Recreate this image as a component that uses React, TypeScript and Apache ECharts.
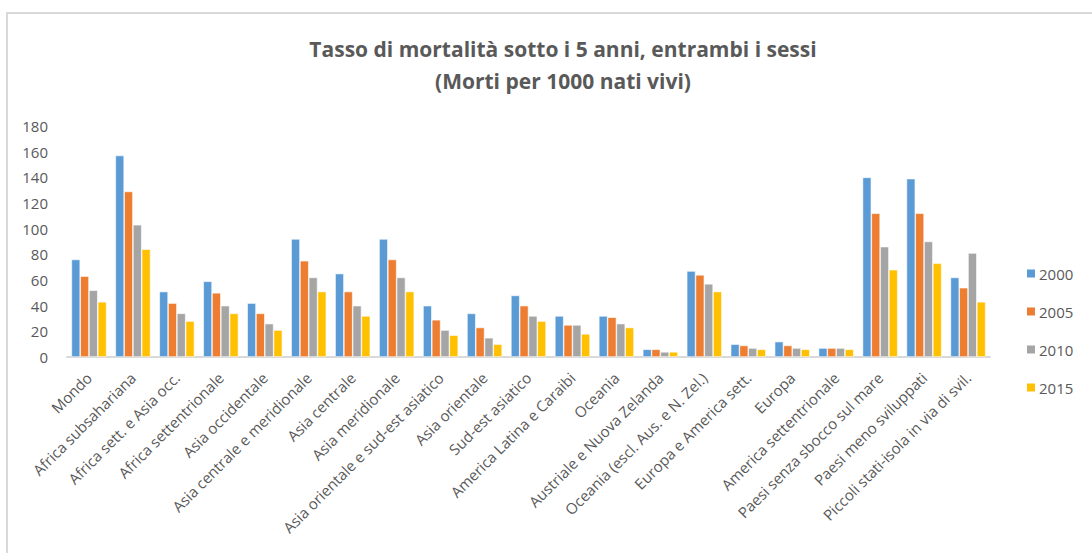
import React, { useEffect, useRef } from "react";
import * as echarts from "echarts";

const categories = [
  "Mondo",
  "Africa subsahariana",
  "Africa sett. e Asia occ.",
  "Africa settentrionale",
  "Asia occidentale",
  "Asia centrale e meridionale",
  "Asia centrale",
  "Asia meridionale",
  "Asia orientale e sud-est asiatico",
  "Asia orientale",
  "Sud-est asiatico",
  "America Latina e Caraibi",
  "Oceania",
  "Austriale e Nuova Zelanda",
  "Oceania (escl. Aus. e N. Zel.)",
  "Europa e America sett.",
  "Europa",
  "America settentrionale",
  "Paesi senza sbocco sul mare",
  "Paesi meno sviluppati",
  "Piccoli stati-isola in via di svil.",
];

const years = ["2000", "2005", "2010", "2015"];

const values2000 = [76, 157, 51, 59, 42, 92, 65, 92, 40, 34, 48, 32, 32, 6, 67, 10, 12, 7, 140, 139, 62];
const values2005 = [63, 129, 42, 50, 34, 75, 51, 76, 29, 23, 40, 25, 31, 6, 64, 9, 9, 7, 112, 112, 54];
const values2010 = [52, 103, 34, 40, 26, 62, 40, 62, 21, 15, 32, 25, 26, 4, 57, 7, 7, 7, 86, 90, 81];
const values2015 = [43, 84, 28, 34, 21, 51, 32, 51, 17, 10, 28, 18, 23, 4, 51, 6, 6, 6, 68, 73, 43];

const seriesValues = [values2000, values2005, values2010, values2015];
const colors = ["#5B9BD5", "#ED7D31", "#A5A5A5", "#FFC000"];

const FONT = "'Open Sans', sans-serif";

export default function App() {
  const ref = useRef<HTMLDivElement>(null);
  useEffect(() => {
    if (!ref.current) return;
    const chart = echarts.init(ref.current, null, { renderer: "svg" });
    chart.setOption({
      animation: false,
      backgroundColor: "#ffffff",
      title: {
        text: "Tasso di mortalità sotto i 5 anni, entrambi i sessi\n(Morti per 1000 nati vivi)",
        left: 558,
        textAlign: "center",
        top: 28,
        textStyle: {
          fontFamily: FONT,
          fontWeight: "bold",
          fontSize: 21,
          lineHeight: 32,
          color: "#595959",
        },
      },
      graphic: [
        {
          type: "rect",
          silent: true,
          z: -10,
          shape: { x: 7, y: 13, width: 1200, height: 700 },
          style: { fill: "none", stroke: "#d9d9d9", lineWidth: 2 },
        },
      ],
      legend: {
        orient: "vertical",
        left: 1020,
        top: 261,
        itemWidth: 10,
        itemHeight: 10,
        itemGap: 23,
        icon: "rect",
        textStyle: { fontFamily: FONT, fontSize: 15, color: "#595959", padding: [0, 0, 0, -2] },
        data: years,
      },
      grid: { left: 67, right: 102, top: 126, bottom: 196, containLabel: false },
      xAxis: {
        type: "category",
        data: categories,
        axisTick: { show: false },
        axisLine: { lineStyle: { color: "#d9d9d9", width: 2 } },
        axisLabel: {
          rotate: 45,
          interval: 0,
          fontFamily: FONT,
          fontSize: 15,
          color: "#595959",
          margin: 18,
          padding: [6, 0, 0, 0],
        },
      },
      yAxis: {
        type: "value",
        min: 0,
        max: 180,
        interval: 20,
        axisLine: { show: false },
        axisTick: { show: false },
        splitLine: { show: false },
        axisLabel: { fontFamily: FONT, fontSize: 15, color: "#595959", margin: 19 },
      },
      series: years.map((y, i) => ({
        name: y,
        type: "bar",
        data: seriesValues[i],
        barGap: "0%",
        barCategoryGap: "20%",
        itemStyle: { color: colors[i], borderColor: "#ffffff", borderWidth: 0.6 },
      })),
    });
    return () => chart.dispose();
  }, []);
  return (
    <div
      ref={ref}
      style={{ position: "absolute", left: 0, top: 0, width: 1092, height: 553 }}
    />
  );
}
